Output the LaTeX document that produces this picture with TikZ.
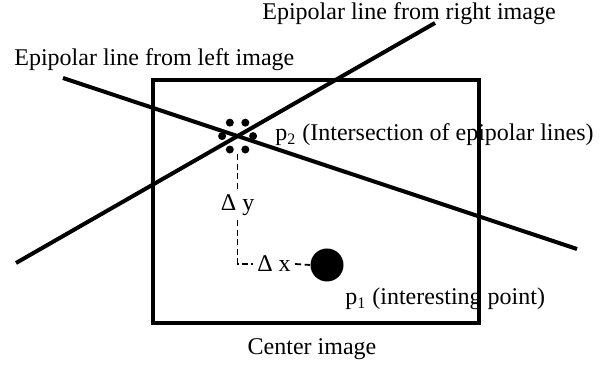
\documentclass[tikz,border=0pt]{standalone}
\usepackage{fontspec}
\setmainfont{Liberation Serif}
\usetikzlibrary{calc}

\begin{document}
\begin{tikzpicture}[
    x=0.5pt, y=-0.5pt,
    font=\fontsize{12}{14}\selectfont,
    frame/.style={
        draw,
        line width=1.8pt
    },
    epiline/.style={
        line width=2pt
    },
    guide/.style={
        dash pattern=on 3pt off 1.8pt,
        line width=0.9pt
    },
    smalldot/.style={
        circle,
        fill,
        inner sep=0pt,
        minimum size=4pt
    },
    bigdot/.style={
        circle,
        fill,
        inner sep=0pt,
        minimum size=16.5pt
    },
    delta/.style={
        inner sep=2pt
    },
    caption/.style={
        inner sep=0pt,
        anchor=base west
    }
]

\useasboundingbox (0,0) rectangle (610,367);

% ------------------------------------------------
% Center image
% ------------------------------------------------

\draw[frame] (153,80) rectangle (479,323);

\node[caption, anchor=base] (center) at (312,355)
    {Center image};

% ------------------------------------------------
% Epipolar lines
% ------------------------------------------------

\coordinate (left1) at (63,78);
\coordinate (left2) at (577,249);
\coordinate (right1) at (16,263);
\coordinate (right2) at (435,23);

\draw[epiline] (left1) -- (left2);
\draw[epiline] (right1) -- (right2);

\node[caption] (leftlbl) at (14,66)
    {Epipolar line from left image};
\node[caption] (rightlbl) at (262,20)
    {Epipolar line from right image};

% ------------------------------------------------
% Points
% ------------------------------------------------

\coordinate (p2) at (intersection of left1--left2 and right1--right2);

\foreach \a in {0,60,...,300}
    \node[smalldot] at ($(p2)+(\a:15.5)$) {};

\node[caption] (p2lbl) at (275,141)
    {p\textsubscript{2} (Intersection of epipolar lines)};

\node[bigdot] (p1) at (327,265) {};

\node[caption] (p1lbl) at (345,305)
    {p\textsubscript{1} (interesting point)};

% ------------------------------------------------
% Offsets
% ------------------------------------------------

\coordinate (gtop) at ($(p2)+(0,18)$);
\node[delta] (dy) at (p2 |- 0,205) {Δ y};
\coordinate (corner) at (p2 |- 0,264);
\node[delta] (dx) at (274,264) {Δ x};

\draw[guide] (gtop) -- (dy.north);
\draw[guide] (dy.south) -- (corner) -- (dx.west);
\draw[guide] (dx.east) -- (p1.west);

\end{tikzpicture}
\end{document}
